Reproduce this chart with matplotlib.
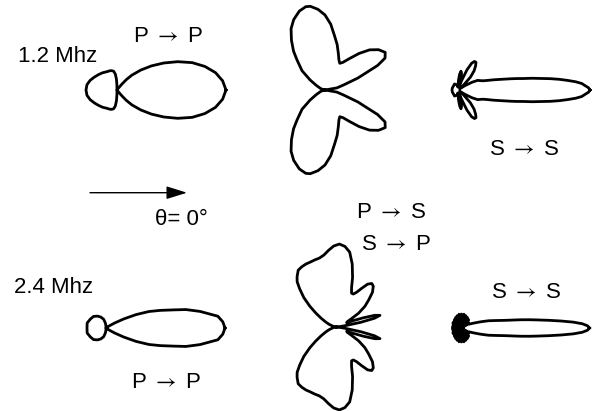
import numpy as np
import matplotlib
matplotlib.use('Agg')
import matplotlib.pyplot as plt

## Pattern data: half patterns (0..180 deg), mirrored about theta = 0
# 1.2 Mhz, P -> P
pp12_theta = [0, 5, 10, 15, 20, 25, 30, 35, 40, 45, 48, 50, 52, 54, 90, 91, 93, 96,
              100, 105, 110, 120, 130, 140, 150, 160, 170, 180]
pp12_r = [109, 106, 100, 91, 80, 67, 54, 42, 31, 21, 14, 8, 3, 0, 0, 5, 11, 16,
          19, 20, 20.5, 21, 22.5, 24, 26, 28.5, 30.5, 31]

# 1.2 Mhz, P -> S / S -> P
ps12_theta = [0, 10, 15, 20, 25, 28, 32, 37, 42, 47, 52, 57, 61, 65, 70, 75, 80, 85, 90,
              95, 100, 103, 108, 114, 119, 124, 129, 133, 140, 146, 152, 160, 170, 180]
ps12_r = [0, 12, 19, 35, 58, 68, 71, 67, 60, 50, 40, 33, 30.5, 33, 39, 47, 55, 66, 75,
          81, 85, 85.5, 83, 77, 70, 60, 50, 41, 30, 18, 10, 5, 2, 0]

# 1.2 Mhz, S -> S
ss12_theta = [0, 1, 2, 3, 4, 5, 6, 7, 8, 9, 10, 11, 12, 14, 16, 18, 20, 23, 26, 29, 32,
              35, 38, 42, 46, 50, 54, 57, 60, 63, 66, 69, 72, 75, 78, 81, 84, 87, 90,
              95, 100, 120, 140, 160, 180]
ss12_r = [132, 130.5, 127, 124, 118, 110, 102, 93, 83, 75, 66, 60, 54, 44, 37, 31, 27,
          24, 22, 16, 8, 3, 2, 8, 18, 25, 30, 33, 33, 30, 22, 10, 4, 11, 17, 19, 16, 10,
          4, 3, 5, 7, 6, 6, 6]

# 2.4 Mhz, P -> P
pp24_theta = [0, 3, 6, 10, 13, 15, 18, 21, 24, 27, 30, 33, 36, 90, 92, 97, 105, 115,
              125, 137, 150, 165, 180]
pp24_r = [119, 117, 112.5, 95.5, 82, 70, 57, 46, 33, 20, 10, 4, 0, 0, 2, 5, 9, 12,
          14.5, 17, 18, 19.5, 19]

# 2.4 Mhz, P -> S / S -> P
ps24_theta = [0, 4, 7, 9, 11, 13, 15, 17, 19, 21, 23, 26, 29, 32, 36, 40, 44, 48, 51,
              54, 57, 60, 63, 66, 69, 72, 76, 80, 84, 88, 92, 96, 100, 104, 108, 112,
              116, 120, 124, 128, 131, 134, 138, 142, 146, 150, 155, 160, 170, 180]
ps24_r = [0, 1, 4, 10, 25, 39, 45, 40, 28, 17, 11, 12, 17, 26, 35, 42, 50, 55, 56,
          53, 46, 40, 37, 37, 42, 52, 65, 76, 81, 83, 81, 77, 73, 71, 70.5, 70,
          70, 69.5, 68.5, 64, 60, 53, 44, 34, 25, 18, 12, 8, 3, 0]

# 2.4 Mhz, S -> S
ss24_theta = [0, 1, 2, 3, 4, 5, 6, 7, 8, 10, 12, 15, 18, 22, 26, 30, 35, 40, 45, 50,
              55, 60, 65, 70, 75, 80, 85, 90, 95, 100, 105, 110, 115, 120, 125, 130,
              135, 140, 145, 150, 155, 160, 165, 170, 175, 180]
ss24_r = [128, 126, 121, 112, 100, 88, 77, 68, 59, 44, 36, 28, 20, 13, 9, 8, 2, 9,
          2, 11, 2, 12, 2, 13, 2, 14, 2, 14, 2, 14, 2, 13, 2, 12, 2, 11, 2, 10, 2,
          10, 2, 9, 2, 9, 2, 9]

patterns = [(pp12_theta, pp12_r), (ps12_theta, ps12_r), (ss12_theta, ss12_r),
            (pp24_theta, pp24_r), (ps24_theta, ps24_r), (ss24_theta, ss24_r)]

# pattern origins in pixels (x, y from top-left)
origins = [(117, 90), (325, 90), (458, 90),
           (106, 328), (336.5, 327), (461.5, 328)]

W, H = 592, 411
RMAX = 140
FONT = ['Liberation Sans', 'DejaVu Sans']
plt.rcParams['mathtext.fontset'] = 'stix'

fig = plt.figure(figsize=(W/100, H/100), dpi=100)

# overlay for labels and the direction arrow
ax0 = fig.add_axes([0, 0, 1, 1])
ax0.set_xlim(0, W)
ax0.set_ylim(H, 0)
ax0.axis('off')

for (th, r), (cx, cy) in zip(patterns, origins):
    ax = fig.add_axes([(cx - RMAX)/W, 1 - (cy + RMAX)/H, 2*RMAX/W, 2*RMAX/H],
                      projection='polar')
    th = np.radians(th)
    th_full = np.concatenate([th, -th[::-1]])
    r_full = np.concatenate([r, r[::-1]])
    ax.plot(th_full, r_full, color='black', lw=2.0, solid_joinstyle='round')
    ax.set_ylim(0, RMAX)
    ax.axis('off')

ARR = r'$\rightarrow$'
labels = [('1.2 Mhz', 58, 61.7), ('P ' + ARR + ' P', 168, 41.7),
          ('S ' + ARR + ' S', 524, 154.5),
          ('\u03b8= 0\u00b0', 181.5, 225), ('P ' + ARR + ' S', 391, 218.3),
          ('S ' + ARR + ' P', 396, 249.5), ('2.4 Mhz', 54, 293.3),
          ('P ' + ARR + ' P', 166, 388.3), ('S ' + ARR + ' S', 526, 297.8)]
for txt, x, y in labels:
    ax0.text(x, y, txt, ha='center', va='baseline', fontsize=16, family=FONT)

ax0.annotate('', xy=(187, 192.7), xytext=(90, 192.7),
             arrowprops=dict(arrowstyle='-|>,head_length=0.9,head_width=0.28',
                             color='black', lw=1.0, mutation_scale=14,
                             shrinkA=0, shrinkB=0))

fig.savefig('out.png', dpi=100)
